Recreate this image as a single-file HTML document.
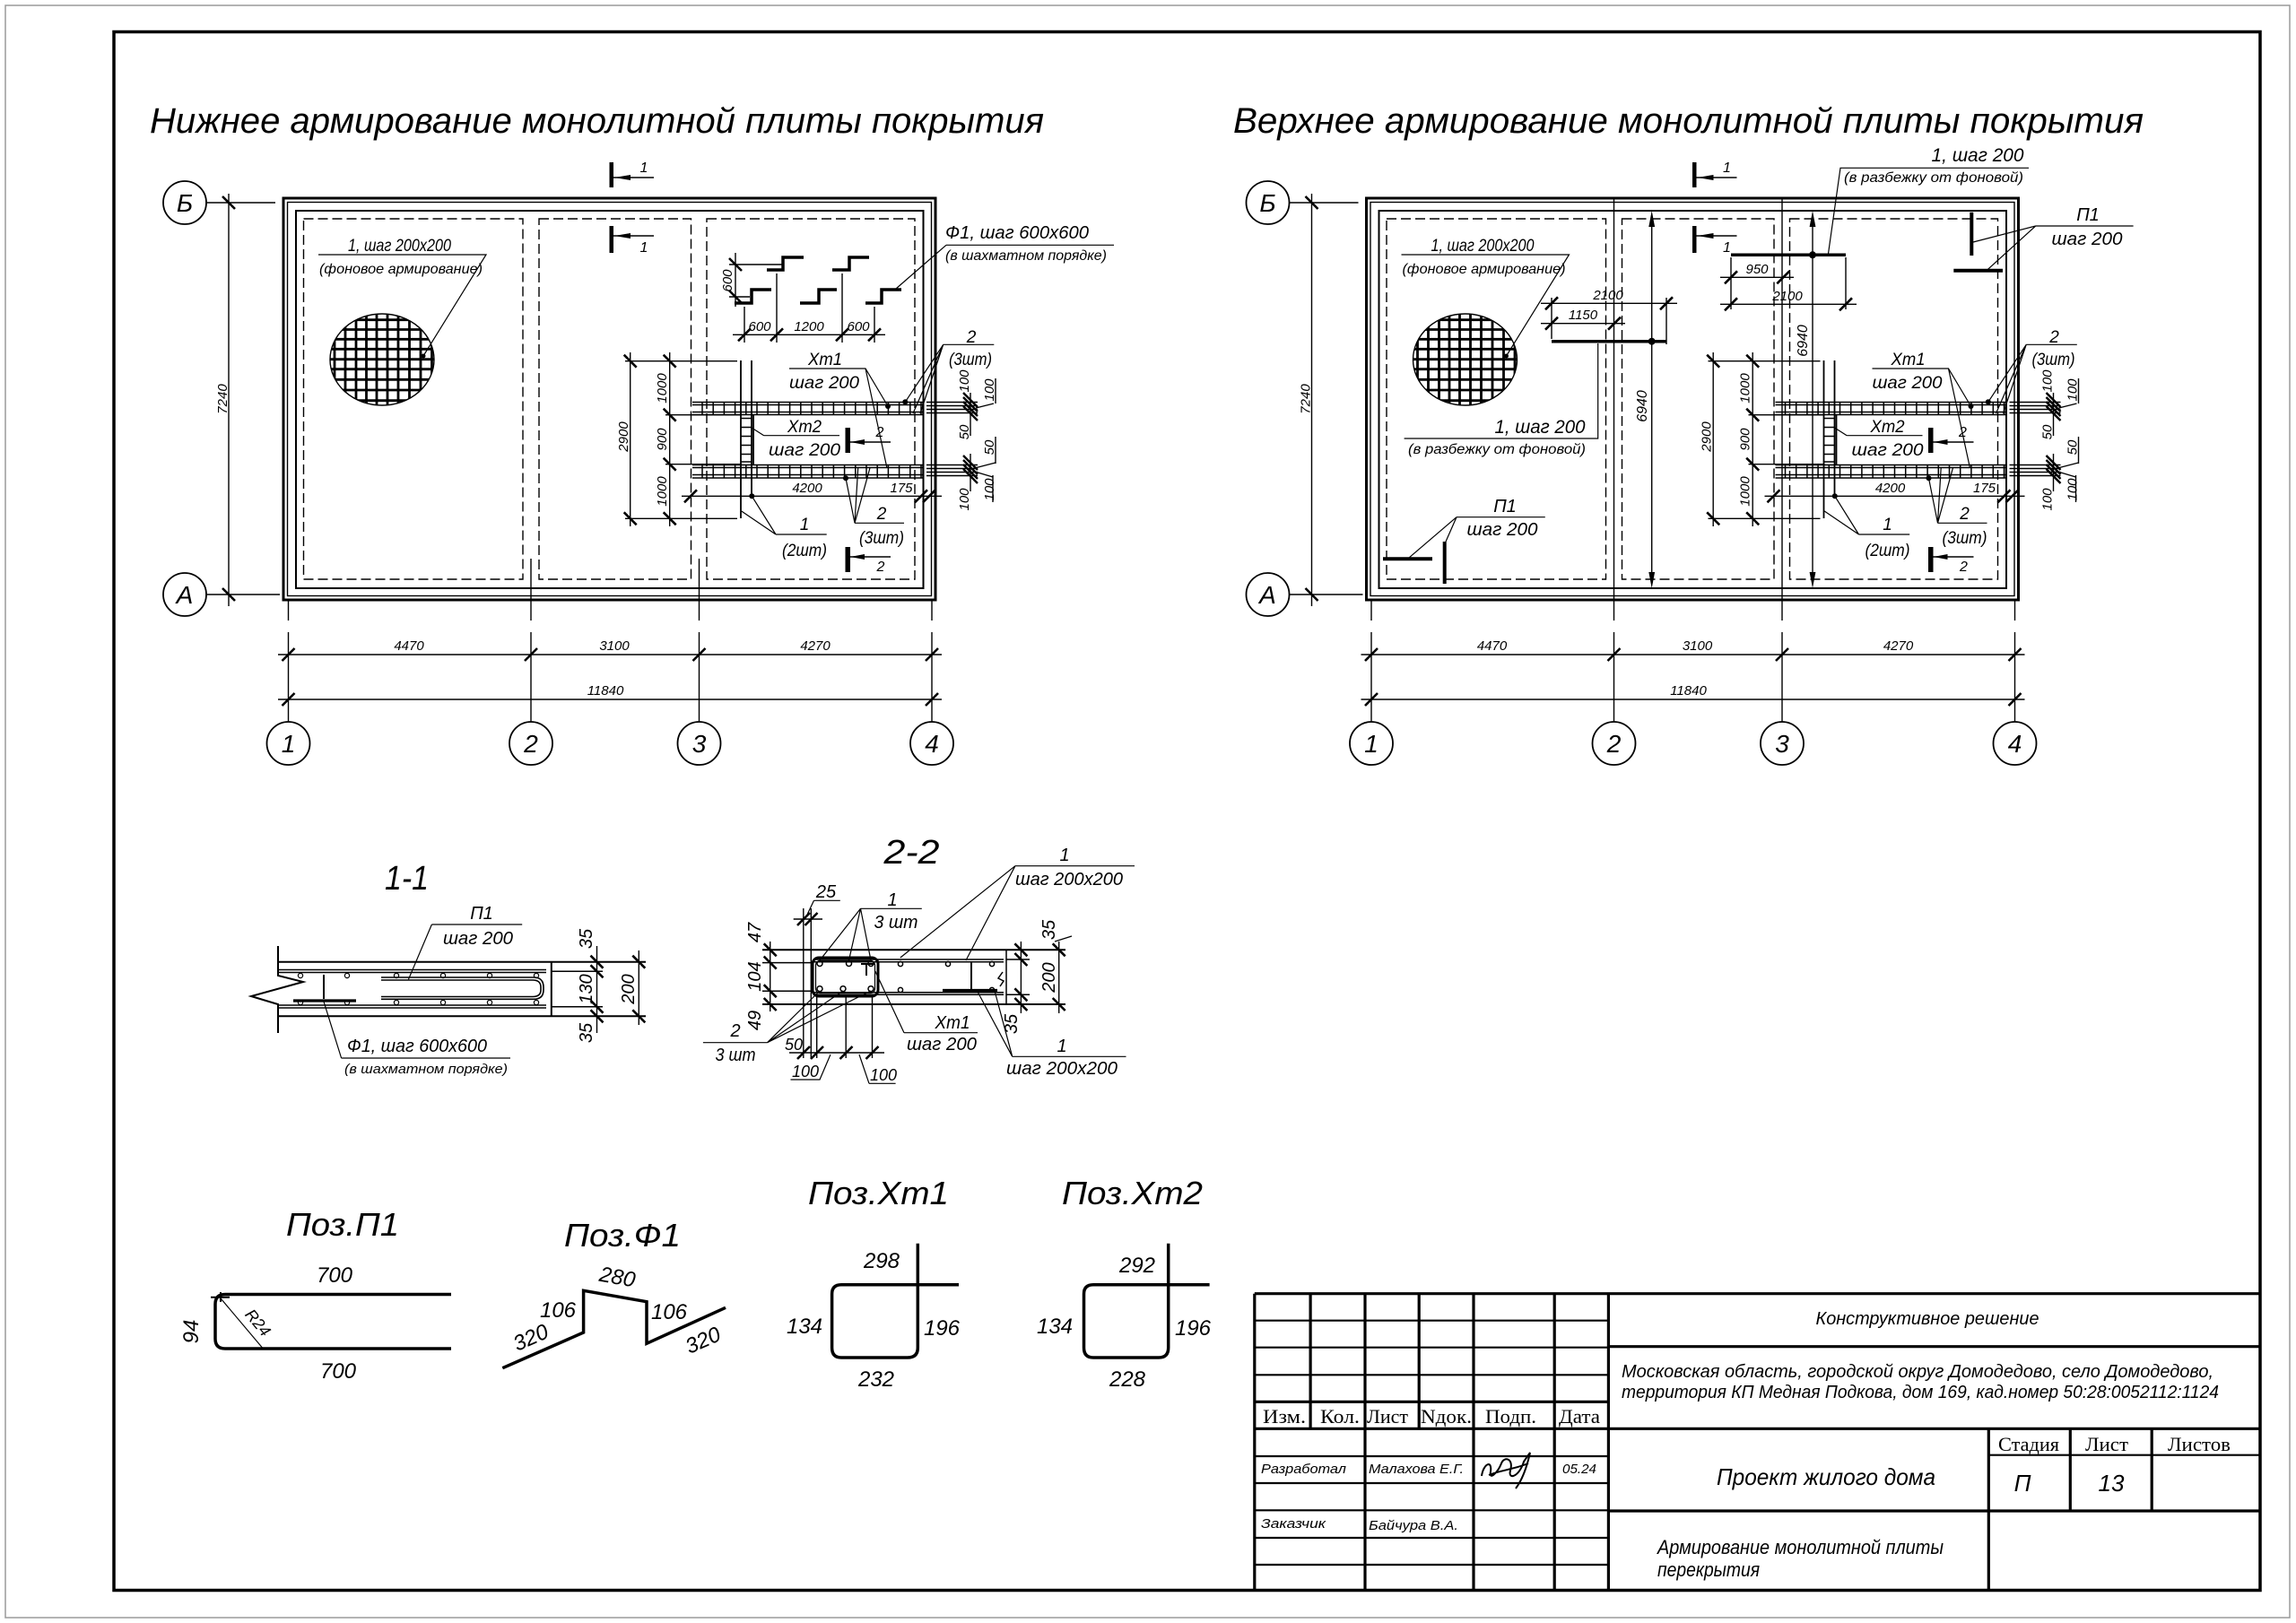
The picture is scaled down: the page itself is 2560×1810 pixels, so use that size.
<!DOCTYPE html>
<html><head><meta charset="utf-8">
<style>
html,body{margin:0;padding:0;background:#fff}
svg{display:block}
text{font-family:"Liberation Sans","DejaVu Sans",sans-serif;font-style:italic;fill:#000}
.sr{font-family:"Liberation Serif","DejaVu Serif",serif;font-style:normal}
.m{text-anchor:middle}
</style></head><body>
<svg xmlns="http://www.w3.org/2000/svg" width="2560" height="1810" viewBox="0 0 2560 1810">
<defs>
<clipPath id="ec"><ellipse cx="426" cy="401" rx="58" ry="51"/></clipPath>
<g id="plan">
 <g fill="none" stroke="#000">
  <rect x="316" y="221" width="727" height="448" stroke-width="3"/>
  <rect x="320.5" y="225.5" width="718" height="439" stroke-width="1.4"/>
  <rect x="330" y="235" width="699.5" height="421" stroke-width="2"/>
  <g stroke-width="1.4" stroke-dasharray="11 5">
   <rect x="338.5" y="244" width="244.5" height="402"/>
   <rect x="601" y="244" width="169.5" height="402"/>
   <rect x="788" y="244" width="232" height="402"/>
  </g>
  <circle cx="206" cy="226" r="24" stroke-width="1.8"/>
  <circle cx="206" cy="663" r="24" stroke-width="1.8"/>
  <circle cx="321.5" cy="829" r="24" stroke-width="1.8"/>
  <circle cx="592" cy="829" r="24" stroke-width="1.8"/>
  <circle cx="779.5" cy="829" r="24" stroke-width="1.8"/>
  <circle cx="1039" cy="829" r="24" stroke-width="1.8"/>
  <path stroke-width="1.4" d="M230 226H307M230 663H312M255 216V676M321.5 669V692M321.5 705V805M592 669V692M592 705V805M779.5 669V692M779.5 705V805M1039 669V692M1039 705V805M310 730H1050M310 780H1050"/>
  <path stroke-width="2.6" d="M248 219L262 233M248 656L262 670M314.5 737L328.5 723M585 737L599 723M772.5 737L786.5 723M1032 737L1046 723M314.5 787L328.5 773M1032 787L1046 773"/>
  <!-- hatch -->
  <ellipse cx="426" cy="401" rx="58" ry="51" stroke-width="1.4"/>
  <g clip-path="url(#ec)" stroke-width="2.8">
   <path d="M373 340V460M385 340V460M397 340V460M408.5 340V460M420 340V460M432 340V460M444 340V460M456.5 340V460M469 340V460M481.5 340V460M360 356.7H500M360 367.5H500M360 378.3H500M360 389.3H500M360 400.7H500M360 411.7H500M360 423.3H500M360 435H500M360 446.7H500"/>
  </g>
  <path stroke-width="1.2" d="M355 284H542L472 397"/>
  <!-- meshes -->
  <path stroke-width="1.5" d="M772 448.5H1029M772 451.5H1029M772 459.5H1029M772 462.5H1029M772 518.5H1029M772 521.5H1029M772 529.5H1029M772 533H1029M1029 448V463M1029 518V533M1033 448.5H1090M1033 452.5H1090M1033 456.5H1090M1033 460.5H1090M1033 518.5H1090M1033 522.5H1090M1033 526.5H1090M1033 530.5H1090"/>
  <path stroke-width="1.5" d="M783 448.5V462.5M795.2 448.5V462.5M807.4 448.5V462.5M819.6 448.5V462.5M831.8 448.5V462.5M844 448.5V462.5M856.2 448.5V462.5M868.4 448.5V462.5M880.6 448.5V462.5M892.8 448.5V462.5M905 448.5V462.5M917.2 448.5V462.5M929.4 448.5V462.5M941.6 448.5V462.5M953.8 448.5V462.5M966 448.5V462.5M978.2 448.5V462.5M990.4 448.5V462.5M1002.6 448.5V462.5M1014.8 448.5V462.5M1027 448.5V462.5"/>
  <path stroke-width="1.5" d="M783 518.5V533M795.2 518.5V533M807.4 518.5V533M819.6 518.5V533M831.8 518.5V533M844 518.5V533M856.2 518.5V533M868.4 518.5V533M880.6 518.5V533M892.8 518.5V533M905 518.5V533M917.2 518.5V533M929.4 518.5V533M941.6 518.5V533M953.8 518.5V533M966 518.5V533M978.2 518.5V533M990.4 518.5V533M1002.6 518.5V533M1014.8 518.5V533M1027 518.5V533"/>
  <path stroke-width="1.8" d="M826 402V578M838 402V553M840 462.5V518.5"/>
  <path stroke-width="1.5" d="M826 466.5H838M826 476.5H838M826 486.5H838M826 496.5H838M826 506.5H838M826 515H838"/>
  <!-- left chain dims -->
  <path stroke-width="1.4" d="M697 402.7H822M742 462.7H827M742 517.7H827M697 578.3H822M702.7 393V587M746.7 393V587M760 553.3H1050"/>
  <path stroke-width="2.6" d="M695.7 395.7L709.7 409.7M695.7 571.3L709.7 585.3M739.7 395.7L753.7 409.7M739.7 455.7L753.7 469.7M739.7 510.7L753.7 524.7M739.7 571.3L753.7 585.3M763 560.3L777 546.3M1020 560.3L1034 546.3M1029 560.3L1043 546.3"/>
  <!-- right clusters -->
  <path stroke-width="1.4" d="M1082 438V486M1082 506V548M1088 455L1108 450M1110 422V450M1083 523L1110 516M1110 487V517M1087 526L1107 532M1107 530V560"/>
  <path stroke-width="2.4" d="M1074 438L1090 454M1074 443L1090 459M1074 448L1090 464M1074 453L1090 469M1074 508L1090 524M1074 513L1090 529M1074 518L1090 534M1074 523L1090 539"/>
  <!-- leaders -->
  <path stroke-width="1.2" d="M880 411H965L990 453M965 411L989 522M851.7 485.7H936M851.7 485.7L838 477M1051.7 384.3H1108.3M1051.7 384.3L1009.3 448.3M1051.7 384.3L1018 461M1051.7 384.3L1026 461M865 596H921.7M865 596L838.3 553.3M865 596L826.7 570M953 583.3H1008M953 583.3L943 533.3M953 583.3L956.7 521.7M953 583.3L970 521.7"/>
  <!-- section markers -->
  <path stroke-width="1.4" d="M684 198H729M684 263H729M947 493H993M947 621H993"/>
 </g>
 <g fill="#000">
  <circle cx="472" cy="397" r="2.5"/>
  <circle cx="990" cy="453" r="3"/>
  <circle cx="1009.3" cy="448.3" r="3"/>
  <circle cx="838.3" cy="553.3" r="3"/>
  <circle cx="943" cy="533.3" r="3"/>
  <rect x="679.5" y="181" width="4.5" height="28"/>
  <rect x="679.5" y="252" width="4.5" height="30"/>
  <rect x="942.5" y="477" width="5.5" height="28"/>
  <rect x="942.5" y="610" width="5.5" height="28"/>
  <polygon points="685,198 703,195 703,201"/>
  <polygon points="685,263 703,260 703,266"/>
  <polygon points="948,493 964,490 964,496"/>
  <polygon points="948,621 964,618 964,624"/>
 </g>
 <g font-size="28">
  <text x="206" y="236" class="m">Б</text>
  <text x="206" y="673" class="m">А</text>
  <text x="321.5" y="839" class="m">1</text>
  <text x="592" y="839" class="m">2</text>
  <text x="779.5" y="839" class="m">3</text>
  <text x="1039" y="839" class="m">4</text>
 </g>
 <g font-size="15">
  <text transform="translate(253,445) rotate(-90)" class="m">7240</text>
  <text x="456" y="725" class="m">4470</text>
  <text x="685" y="725" class="m">3100</text>
  <text x="909" y="725" class="m">4270</text>
  <text x="675" y="775" class="m">11840</text>
  <text transform="translate(700,487) rotate(-90)" class="m">2900</text>
  <text transform="translate(743,433) rotate(-90)" class="m">1000</text>
  <text transform="translate(743,490) rotate(-90)" class="m">900</text>
  <text transform="translate(743,548) rotate(-90)" class="m">1000</text>
  <text x="900" y="549" class="m">4200</text>
  <text x="1005" y="549" class="m">175</text>
  <text transform="translate(1080,425) rotate(-90)" class="m">100</text>
  <text transform="translate(1080,482) rotate(-90)" class="m">50</text>
  <text transform="translate(1080,557) rotate(-90)" class="m">100</text>
  <text transform="translate(1108,435) rotate(-90)" class="m">100</text>
  <text transform="translate(1108,499) rotate(-90)" class="m">50</text>
  <text transform="translate(1108,546) rotate(-90)" class="m">100</text>
 </g>
 <g font-size="16">
  <text x="718" y="192" class="m">1</text>
  <text x="718" y="281" class="m">1</text>
  <text x="981" y="487" class="m">2</text>
  <text x="982" y="637" class="m">2</text>
  <text x="356" y="305" textLength="182" lengthAdjust="spacingAndGlyphs">(фоновое армирование)</text>
 </g>
 <g font-size="19">
  <text x="388" y="280" textLength="115" lengthAdjust="spacingAndGlyphs">1, шаг 200х200</text>
  <text x="920" y="407" class="m" textLength="38" lengthAdjust="spacingAndGlyphs">Хт1</text>
  <text x="919" y="433" class="m" textLength="78" lengthAdjust="spacingAndGlyphs">шаг 200</text>
  <text x="897" y="482" class="m" textLength="38" lengthAdjust="spacingAndGlyphs">Хт2</text>
  <text x="897" y="508" class="m" textLength="80" lengthAdjust="spacingAndGlyphs">шаг 200</text>
  <text x="1083" y="382" class="m">2</text>
  <text x="1082" y="407" class="m" textLength="48" lengthAdjust="spacingAndGlyphs">(3шт)</text>
  <text x="897" y="591" class="m">1</text>
  <text x="897" y="620" class="m" textLength="50" lengthAdjust="spacingAndGlyphs">(2шт)</text>
  <text x="983" y="579" class="m">2</text>
  <text x="983" y="606" class="m" textLength="50" lengthAdjust="spacingAndGlyphs">(3шт)</text>
 </g>
</g>
</defs>

<rect width="2560" height="1810" fill="#fff"/>
<rect x="6" y="6" width="2547" height="1798" fill="none" stroke="#9a9a9a" stroke-width="1.5"/>
<rect x="127" y="35.5" width="2393" height="1738" fill="none" stroke="#000" stroke-width="3.5"/>

<text x="167" y="148" font-size="40" textLength="997" lengthAdjust="spacingAndGlyphs">Нижнее армирование монолитной плиты покрытия</text>
<text x="1375" y="148" font-size="40" textLength="1015" lengthAdjust="spacingAndGlyphs">Верхнее армирование монолитной плиты покрытия</text>

<use href="#plan"/>
<use href="#plan" transform="translate(1207.5,0)"/>

<!-- LEFT PLAN SPECIFIC -->
<g fill="none" stroke="#000">
 <path stroke-width="1.4" d="M592 623V669M779.5 623V669"/>
 <path stroke-width="3.5" d="M855 301H873V287H896M928 301H947V287H969M819 338H838V323H860M892 338H913V323H933M965 338H983V323H1005"/>
 <path stroke-width="1.4" d="M820 282V342M813 295H872M813 331H836M830 342V382M866 305V382M939 305V382M975 342V382M817 373.3H987"/>
 <path stroke-width="2.6" d="M813 288L827 302M813 324L827 338M823 380.3L837 366.3M859 380.3L873 366.3M932 380.3L946 366.3M968 380.3L982 366.3"/>
 <path stroke-width="1.2" d="M1055 273.3H1242M1055 273.3L999 322"/>
</g>
<g font-size="15">
 <text transform="translate(816,313) rotate(-90)" class="m">600</text>
 <text x="847" y="369" class="m">600</text>
 <text x="902" y="369" class="m">1200</text>
 <text x="957" y="369" class="m">600</text>
</g>
<text x="1054" y="266" font-size="20" textLength="160" lengthAdjust="spacingAndGlyphs">Ф1, шаг 600х600</text>
<text x="1054" y="290" font-size="16" textLength="180" lengthAdjust="spacingAndGlyphs">(в шахматном порядке)</text>

<!-- RIGHT PLAN SPECIFIC -->
<g fill="none" stroke="#000">
 <path stroke-width="1.4" d="M1799.5 221V669M1987 221V669M1841.7 240V651M2021 240V651"/>
 <path stroke-width="3.5" d="M1930 284.3H2058M1730 380.7H1858"/>
 <path stroke-width="4" d="M2198.3 236.7V285M2178.3 301.7H2233M1542 623.3H1597M1610.7 604V651"/>
 <path stroke-width="1.4" d="M1930 287V345M2058 287V345M1730 332V378M1858 332V384M1918 309.3H2000M1918 339.3H2070M1718 338.3H1870M1718 360.7H1812"/>
 <path stroke-width="2.6" d="M1923 316.3L1937 302.3M1981.3 316.3L1995.3 302.3M1923 346.3L1937 332.3M2051 346.3L2065 332.3M1723 345.3L1737 331.3M1851 345.3L1865 331.3M1723 367.7L1737 353.7M1793 367.7L1807 353.7"/>
 <path stroke-width="1.2" d="M1781.7 383V489H1565.6M2038.3 284.3L2052 187.3H2262M2269.7 252H2378.6M2269.7 252L2200 270M2269.7 252L2215 301.7M1624 576.7H1722.8M1624 576.7L1569.5 623.3M1624 576.7L1612 604"/>
</g>
<g fill="#000">
 <polygon points="1841.7,235 1838.3,253 1845.1,253"/>
 <polygon points="1841.7,656 1838.3,638 1845.1,638"/>
 <polygon points="2021,235 2017.6,253 2024.4,253"/>
 <polygon points="2021,656 2017.6,638 2024.4,638"/>
 <circle cx="2021" cy="284.3" r="4"/>
 <circle cx="1841.7" cy="380.7" r="4"/>
</g>
<g font-size="15">
 <text transform="translate(1836,453) rotate(-90)" class="m" font-size="16">6940</text>
 <text transform="translate(2015,380) rotate(-90)" class="m" font-size="16">6940</text>
 <text x="1959" y="305" class="m">950</text>
 <text x="1993" y="335" class="m">2100</text>
 <text x="1793" y="334" class="m">2100</text>
 <text x="1765" y="356" class="m">1150</text>
</g>
<text x="1717" y="483" font-size="21" class="m" textLength="101" lengthAdjust="spacingAndGlyphs">1, шаг 200</text>
<text x="1669" y="506" font-size="16" class="m" textLength="198" lengthAdjust="spacingAndGlyphs">(в разбежку от фоновой)</text>
<text x="2205" y="180" font-size="21" class="m" textLength="103" lengthAdjust="spacingAndGlyphs">1, шаг 200</text>
<text x="2156" y="203" font-size="16" class="m" textLength="200" lengthAdjust="spacingAndGlyphs">(в разбежку от фоновой)</text>
<text x="2328" y="246" font-size="20" class="m">П1</text>
<text x="2327" y="273" font-size="20" class="m" textLength="79" lengthAdjust="spacingAndGlyphs">шаг 200</text>
<text x="1678" y="571" font-size="20" class="m">П1</text>
<text x="1675" y="597" font-size="20" class="m" textLength="79" lengthAdjust="spacingAndGlyphs">шаг 200</text>

<!-- SECTION 1-1 -->
<text x="429" y="992" font-size="38" textLength="49" lengthAdjust="spacingAndGlyphs">1-1</text>
<g fill="none" stroke="#000">
 <path stroke-width="2" d="M310 1072.7H720M310 1133.3H720M614.8 1072.7V1133.3M310 1055V1088L338 1095L280 1111L310 1120V1152"/>
 <path stroke-width="1.5" d="M310 1081.5H609M310 1084.5H609M310 1121H609M310 1124H609M615 1083.3H672M615 1122.7H672"/>
 <path stroke-width="1.6" d="M425 1090H595Q606 1090 606 1101V1104Q606 1114.3 595 1114.3H425M425 1093H594Q603 1093 603 1101V1104Q603 1111.5 594 1111.5H425"/>
 <path stroke-width="2" d="M361 1087V1114"/>
 <path stroke-width="3.2" d="M327 1116H397"/>
 <path stroke-width="1.4" d="M665.5 1055V1152M712.3 1060V1143"/>
 <path stroke-width="2.6" d="M658.5 1065.7L672.5 1079.7M658.5 1076.3L672.5 1090.3M658.5 1115.7L672.5 1129.7M658.5 1126.3L672.5 1140.3M705.3 1065.7L719.3 1079.7M705.3 1126.3L719.3 1140.3"/>
 <g stroke-width="1.2">
  <circle cx="335" cy="1088" r="2.6"/><circle cx="387" cy="1088" r="2.6"/><circle cx="442" cy="1088" r="2.6"/><circle cx="494" cy="1088" r="2.6"/><circle cx="546" cy="1088" r="2.6"/><circle cx="598" cy="1088" r="2.6"/>
  <circle cx="335" cy="1118" r="2.6"/><circle cx="387" cy="1118" r="2.6"/><circle cx="442" cy="1118" r="2.6"/><circle cx="494" cy="1118" r="2.6"/><circle cx="546" cy="1118" r="2.6"/><circle cx="598" cy="1118" r="2.6"/>
 </g>
 <path stroke-width="1.2" d="M481.4 1031H582.2M481.4 1031L455.4 1092.3M380.6 1180H569M380.6 1180L361 1117"/>
</g>
<g font-size="20">
 <text transform="translate(660,1047) rotate(-90)" class="m">35</text>
 <text transform="translate(660,1103) rotate(-90)" class="m">130</text>
 <text transform="translate(660,1152) rotate(-90)" class="m">35</text>
 <text transform="translate(707,1103) rotate(-90)" class="m">200</text>
 <text x="537" y="1025" class="m">П1</text>
 <text x="533" y="1053" class="m" textLength="78" lengthAdjust="spacingAndGlyphs">шаг 200</text>
 <text x="465" y="1173" class="m" textLength="156" lengthAdjust="spacingAndGlyphs">Ф1, шаг 600х600</text>
</g>
<text x="475" y="1197" font-size="15" class="m" textLength="182" lengthAdjust="spacingAndGlyphs">(в шахматном порядке)</text>

<!-- SECTION 2-2 -->
<text x="985.5" y="963" font-size="38" textLength="62" lengthAdjust="spacingAndGlyphs">2-2</text>
<g fill="none" stroke="#000">
 <path stroke-width="2" d="M850 1059.3H1188M850 1120H1188"/>
 <path stroke-width="1.5" d="M907 1070H1119M907 1072.7H1119M907 1106.7H1119M907 1109.3H1119M1122 1059.3V1120M1122 1070H1148M1122 1109.3H1148M850 1073.6H906M850 1105.2H906M1118 1084L1113 1091L1119 1094L1115 1100"/>
 <rect x="906" y="1068" width="73" height="43" rx="7" stroke-width="3"/>
 <rect x="909.5" y="1071.5" width="66" height="36" rx="5" stroke-width="1.2"/>
 <path stroke-width="2" d="M960 1075H975M966 1075V1088M1083 1073V1103"/>
 <path stroke-width="3.2" d="M1051 1104.5H1112"/>
 <g stroke-width="1.5">
  <circle cx="914" cy="1074.5" r="3"/><circle cx="946.5" cy="1074.5" r="3"/><circle cx="971" cy="1074.5" r="3"/>
  <circle cx="914" cy="1102.7" r="3"/><circle cx="940" cy="1102.7" r="3"/><circle cx="971" cy="1102.7" r="3"/>
  <circle cx="1004" cy="1075" r="2.6"/><circle cx="1057" cy="1075" r="2.6"/><circle cx="1106" cy="1075" r="2.6"/>
  <circle cx="1004" cy="1104" r="2.6"/><circle cx="1106" cy="1104" r="2.6"/>
 </g>
 <path stroke-width="1.4" d="M1138.4 1050V1130M1180.7 1050V1130M858.7 1050V1128M895.8 1013V1180M904.3 1013V1180M910.7 1111V1180M943.2 1111V1180M972.5 1111V1180M884.7 1025H917M880 1174H986"/>
 <path stroke-width="2.6" d="M1131.4 1052.3L1145.4 1066.3M1131.4 1063L1145.4 1077M1131.4 1102.3L1145.4 1116.3M1131.4 1113L1145.4 1127M1173.7 1052.3L1187.7 1066.3M1173.7 1113L1187.7 1127M851.7 1052.3L865.7 1066.3M851.7 1066.6L865.7 1080.6M851.7 1098.2L865.7 1112.2M851.7 1113L865.7 1127M889 1032L903 1018M897.5 1032L911.5 1018M889 1181L903 1167M904 1181L918 1167M936.5 1181L950.5 1167M965.5 1181L979.5 1167"/>
 <path stroke-width="1.2" d="M907.5 1004.3H936.8M907.5 1004.3L900 1020M959.5 1013.3H1027.8M959.5 1013.3L914 1071M959.5 1013.3L946.5 1071M959.5 1013.3L971 1071M1131.9 965.7H1265M1131.9 965.7L1003.8 1068M1131.9 965.7L1077 1071M1008 1151.7H1090M1008 1151.7L975.8 1083M1128.7 1178.3H1255.5M1128.7 1178.3L1090 1106M1128.7 1178.3L1109 1105M783.9 1162.7H855.5M855.5 1162.7L914 1105M855.5 1162.7L940 1105M855.5 1162.7L971 1105M881.5 1204H914L926 1176M969 1208.3H998.6M969 1208.3L958 1176M1176 1050L1195 1044"/>
</g>
<g font-size="20">
 <text transform="translate(1176,1037) rotate(-90)" class="m">35</text>
 <text transform="translate(1176,1090) rotate(-90)" class="m">200</text>
 <text transform="translate(1134,1142) rotate(-90)" class="m">35</text>
 <text transform="translate(848,1040) rotate(-90)" class="m">47</text>
 <text transform="translate(848,1089) rotate(-90)" class="m">104</text>
 <text transform="translate(848,1138) rotate(-90)" class="m">49</text>
 <text x="921" y="1001" class="m">25</text>
 <text x="995" y="1010" class="m">1</text>
 <text x="999" y="1035" class="m" textLength="49" lengthAdjust="spacingAndGlyphs">3 шт</text>
 <text x="1187" y="960" class="m">1</text>
 <text x="1192" y="987" class="m" textLength="120" lengthAdjust="spacingAndGlyphs">шаг 200х200</text>
 <text x="1062" y="1147" class="m" textLength="39" lengthAdjust="spacingAndGlyphs">Хт1</text>
 <text x="1050" y="1171" class="m" textLength="78" lengthAdjust="spacingAndGlyphs">шаг 200</text>
 <text x="1184" y="1173" class="m">1</text>
 <text x="1184" y="1198" class="m" textLength="124" lengthAdjust="spacingAndGlyphs">шаг 200х200</text>
 <text x="820" y="1156" class="m">2</text>
 <text x="820" y="1183" class="m" textLength="45" lengthAdjust="spacingAndGlyphs">3 шт</text>
 <text x="885" y="1171" class="m" font-size="18">50</text>
 <text x="898" y="1201" class="m" font-size="18">100</text>
 <text x="985" y="1205" class="m" font-size="18">100</text>
</g>

<!-- POZ DETAILS -->
<g font-size="36">
 <text x="319" y="1378" textLength="126" lengthAdjust="spacingAndGlyphs">Поз.П1</text>
 <text x="629" y="1390" textLength="130" lengthAdjust="spacingAndGlyphs">Поз.Ф1</text>
 <text x="901" y="1343" textLength="157" lengthAdjust="spacingAndGlyphs">Поз.Хт1</text>
 <text x="1184" y="1343" textLength="157" lengthAdjust="spacingAndGlyphs">Поз.Хт2</text>
</g>
<g fill="none" stroke="#000">
 <path stroke-width="3.5" stroke-linejoin="round" d="M503 1443.5H251Q240 1443.5 240 1454.5V1493Q240 1504 251 1504H503"/>
 <path stroke-width="1.2" d="M245 1446.7L293.3 1504"/>
 <path stroke-width="2" d="M235 1446.7H256M246 1441V1452"/>
 <path stroke-width="3.5" stroke-linejoin="miter" d="M560.3 1525.7L650.6 1486V1439.3L721 1451.7V1498.3L809 1458.3"/>
 <path stroke-width="3.5" d="M1069 1432.7H938Q927.6 1432.7 927.6 1443V1503Q927.6 1514 938 1514H1012Q1023.3 1514 1023.3 1503V1386.7"/>
 <path stroke-width="3.5" d="M1348.6 1432.7H1219Q1208.5 1432.7 1208.5 1443V1503Q1208.5 1514 1219 1514H1292Q1302.7 1514 1302.7 1503V1386.7"/>
</g>
<g font-size="24">
 <text x="373" y="1430" class="m">700</text>
 <text x="377" y="1537" class="m">700</text>
 <text transform="translate(221,1485) rotate(-90)" class="m">94</text>
 <text transform="translate(283,1479) rotate(50)" class="m" font-size="18">R24</text>
 <text transform="translate(687,1432) rotate(10)" class="m">280</text>
 <text x="622" y="1469" class="m">106</text>
 <text x="746" y="1471" class="m">106</text>
 <text transform="translate(595,1499) rotate(-24)" class="m">320</text>
 <text transform="translate(787,1502) rotate(-24)" class="m">320</text>
 <text x="983" y="1414" class="m">298</text>
 <text x="897" y="1487" class="m">134</text>
 <text x="1050" y="1489" class="m">196</text>
 <text x="977" y="1546" class="m">232</text>
 <text x="1268" y="1419" class="m">292</text>
 <text x="1176" y="1487" class="m">134</text>
 <text x="1330" y="1489" class="m">196</text>
 <text x="1257" y="1546" class="m">228</text>
</g>

<!-- TITLE BLOCK -->
<g fill="none" stroke="#000">
 <path stroke-width="3.2" d="M1398.8 1442.7H2520M1398.8 1442.7V1773.3M1522 1442.7V1773.3M1643 1442.7V1773.3M1733.2 1442.7V1773.3M1793.4 1442.7V1773.3M1461.1 1442.7V1593.3M1582.2 1442.7V1593.3M1398.8 1563.3H1793.4M1398.8 1593.3H2520M1793.4 1501.7H2520M1793.4 1685H2520M2217.3 1593.3V1773.3M2308.3 1593.3V1685M2399.2 1593.3V1685"/>
 <path stroke-width="2.2" d="M1398.8 1472.7H1793.4M1398.8 1502.7H1793.4M1398.8 1533.3H1793.4M1398.8 1624H1793.4M1398.8 1654H1793.4M1398.8 1684.3H1793.4M1398.8 1715H1793.4M1398.8 1745H1793.4M2217.3 1622.7H2520"/>
 <path stroke-width="2" d="M1652 1646C1654 1632 1664 1628 1662 1641C1660 1652 1670 1642 1674 1632C1677 1624 1688 1626 1684 1640C1681 1651 1694 1647 1699 1630L1706 1620C1702 1638 1696 1652 1690 1660M1660 1645C1672 1640 1690 1638 1704 1632"/>
</g>
<text x="2149" y="1477" font-size="20" class="m" textLength="249" lengthAdjust="spacingAndGlyphs">Конструктивное решение</text>
<text x="1808" y="1536" font-size="20" textLength="660" lengthAdjust="spacingAndGlyphs">Московская область, городской округ Домодедово, село Домодедово,</text>
<text x="1808" y="1559" font-size="20" textLength="666" lengthAdjust="spacingAndGlyphs">территория КП Медная Подкова, дом 169, кад.номер 50:28:0052112:1124</text>
<g font-size="22" class="sr">
 <text x="1408" y="1587" class="sr" textLength="48" lengthAdjust="spacingAndGlyphs">Изм.</text>
 <text x="1472" y="1587" class="sr" textLength="44" lengthAdjust="spacingAndGlyphs">Кол.</text>
 <text x="1524" y="1587" class="sr" textLength="46" lengthAdjust="spacingAndGlyphs">Лист</text>
 <text x="1584" y="1587" class="sr" textLength="57" lengthAdjust="spacingAndGlyphs">Nдок.</text>
 <text x="1656" y="1587" class="sr" textLength="57" lengthAdjust="spacingAndGlyphs">Подп.</text>
 <text x="1738" y="1587" class="sr" textLength="46" lengthAdjust="spacingAndGlyphs">Дата</text>
 <text x="2228" y="1618" class="sr" textLength="68" lengthAdjust="spacingAndGlyphs">Стадия</text>
 <text x="2325" y="1618" class="sr" textLength="48" lengthAdjust="spacingAndGlyphs">Лист</text>
 <text x="2417" y="1618" class="sr" textLength="70" lengthAdjust="spacingAndGlyphs">Листов</text>
</g>
<g font-size="15">
 <text x="1406" y="1643" textLength="95" lengthAdjust="spacingAndGlyphs">Разработал</text>
 <text x="1526" y="1643" textLength="106" lengthAdjust="spacingAndGlyphs">Малахова Е.Г.</text>
 <text x="1742" y="1643" textLength="38" lengthAdjust="spacingAndGlyphs">05.24</text>
 <text x="1406" y="1704" textLength="72" lengthAdjust="spacingAndGlyphs">Заказчик</text>
 <text x="1526" y="1706" textLength="100" lengthAdjust="spacingAndGlyphs">Байчура В.А.</text>
</g>
<text x="1914" y="1656" font-size="26" textLength="244" lengthAdjust="spacingAndGlyphs">Проект жилого дома</text>
<text x="2255" y="1663" font-size="26" class="m">П</text>
<text x="2354" y="1663" font-size="26" class="m">13</text>
<text x="1848" y="1733" font-size="22" textLength="319" lengthAdjust="spacingAndGlyphs">Армирование монолитной плиты</text>
<text x="1848" y="1758" font-size="22" textLength="114" lengthAdjust="spacingAndGlyphs">перекрытия</text>
</svg>
</body></html>
